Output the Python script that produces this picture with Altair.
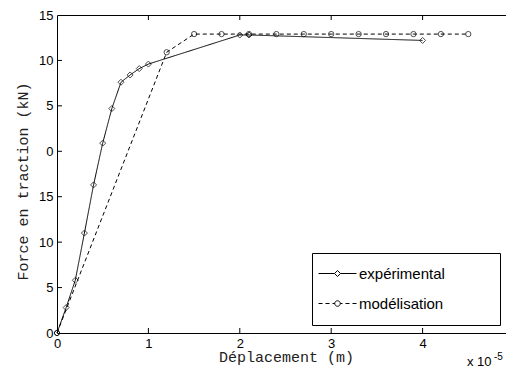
import json
import math
import altair as alt
import pandas as pd

# ---- data ----
series_names = ["expérimental", "modélisation"]

exp_x = [0, 0.1, 0.2, 0.3, 0.4, 0.5, 0.6, 0.7, 0.8, 0.9, 1.0, 2.0, 2.1, 4.0]
exp_y = [0, 2.8, 5.8, 11.0, 16.3, 20.9, 24.7, 27.6, 28.4, 29.1, 29.6, 32.8, 32.8, 32.2]

mod_x = [0, 1.2, 1.5, 1.8, 2.1, 2.4, 2.7, 3.0, 3.3, 3.6, 3.9, 4.2, 4.5]
mod_y = [0, 30.9, 32.9, 32.9, 32.9, 32.9, 32.9, 32.9, 32.9, 32.9, 32.9, 32.9, 32.9]

x_ticks = [0, 1, 2, 3, 4, 5]
x_inner_ticks = [1, 2, 3, 4]
y_ticks = [0, 5, 10, 15, 20, 25, 30, 35]
y_inner_ticks = [5, 10, 15, 20, 25, 30]
y_tick_labels = ["0", "5", "10", "15", "0", "5", "10", "15"]
exponent_text = ["x 10", "-5"]

df = pd.concat([
    pd.DataFrame({"x": exp_x, "y": exp_y, "series": series_names[0]}),
    pd.DataFrame({"x": mod_x, "y": mod_y, "series": series_names[1]}),
], ignore_index=True)

W, H = 457, 318

x_scale = alt.Scale(domain=[0, 5], nice=False, zero=False)
y_scale = alt.Scale(domain=[0, 35], nice=False, zero=False)

# legend glyphs: line + marker (dashes drawn into the path for the model)
path_exp = "M-3.8,0H-0.6M0,-0.6L0.6,0L0,0.6L-0.6,0ZM0.6,0H3.8"
ring = "".join(
    ("M" if i == 0 else "L")
    + f"{0.55 * math.cos(i * math.pi / 8):.3f},{0.55 * math.sin(i * math.pi / 8):.3f}"
    for i in range(16)
) + "Z"
path_mod = ("M-3.8,0H-3.0M-2.4,0H-1.6M-1.0,0H-0.55" + ring +
            "M0.55,0H1.0M1.6,0H2.4M3.0,0H3.8")
shape_scale = alt.Scale(domain=series_names, range=[path_exp, path_mod])

x_axis = alt.Axis(values=x_ticks, ticks=False, tickSize=0, domain=False, grid=False,
                  labelFont="Liberation Sans", labelFontSize=13, labelColor="black",
                  labelPadding=4, labelFlush=False,
                  title="Déplacement (m)", titleFont="Liberation Mono",
                  titleFontSize=15, titleFontWeight="normal", titleColor="#222",
                  titleX=229, titleY=28, titleBaseline="alphabetic",
                  titleAlign="center")
y_axis = alt.Axis(values=y_ticks, ticks=False, tickSize=0, domain=False, grid=False,
                  labelExpr=json.dumps(y_tick_labels) + "[round(datum.value/5)]",
                  labelFont="Liberation Sans", labelFontSize=13, labelColor="black",
                  labelPadding=4, labelFlush=False,
                  title="Force en traction (kN)", titleFont="Liberation Mono",
                  titleFontSize=15, titleFontWeight="normal", titleColor="#222",
                  titleX=-35, titleY=166, titleAngle=270, titleBaseline="middle",
                  titleAlign="center")

X = alt.X("x:Q", scale=x_scale, axis=x_axis)
Y = alt.Y("y:Q", scale=y_scale, axis=y_axis)

pad = "\u00a0" * 10 + "\u200b"
leg = alt.Legend(
    orient="none", legendX=255, legendY=238, title=None,
    strokeColor="black", fillColor="white", padding=13, cornerRadius=0,
    labelFont="Liberation Sans", labelFontSize=15, labelColor="black",
    labelExpr="datum.label + '" + pad + "'",
    symbolSize=100, symbolStrokeWidth=1, symbolStrokeColor="black",
    symbolFillColor="transparent", symbolOpacity=1,
    symbolOffset=5, labelOffset=14, rowPadding=14,
)

base = alt.Chart(df)
is_exp = alt.datum.series == series_names[0]

lines = base.mark_line(color="black", strokeWidth=1).encode(
    x=X, y=Y,
    strokeDash=alt.condition(is_exp, alt.value([1, 0]), alt.value([4, 3])),
    detail="series:N",
)

markers = base.mark_point(filled=False, color="black", strokeWidth=1).encode(
    x=X, y=Y,
    shape=alt.condition(is_exp, alt.value("diamond"), alt.value("circle")),
    size=alt.condition(is_exp, alt.value(36), alt.value(28)),
)

# legend only: the shape scale has an explicit domain, no marks are drawn
legend_layer = base.transform_filter("false").mark_point(
    filled=False, color="black").encode(
    x=X, y=Y,
    shape=alt.Shape("series:N", scale=shape_scale, legend=leg),
)

tick_df = pd.DataFrame({"x": x_inner_ticks})
ytick_df = pd.DataFrame({"y": y_inner_ticks})

xticks_bottom = alt.Chart(tick_df).mark_rule(color="black", strokeWidth=1).encode(
    x=X, y=alt.value(H - 5), y2=alt.value(H))
xticks_top = alt.Chart(tick_df).mark_rule(color="black", strokeWidth=1).encode(
    x=X, y=alt.value(0), y2=alt.value(5))
yticks_left = alt.Chart(ytick_df).mark_rule(color="black", strokeWidth=1).encode(
    y=Y, x=alt.value(0), x2=alt.value(5))

exp_df = pd.DataFrame({"t": [exponent_text[0]]})
exp_df2 = pd.DataFrame({"t": [exponent_text[1]]})
exp_main = alt.Chart(exp_df).mark_text(
    font="Liberation Sans", fontSize=13, color="black", align="left",
    baseline="alphabetic").encode(x=alt.value(410), y=alt.value(H + 33), text="t:N")
exp_sup = alt.Chart(exp_df2).mark_text(
    font="Liberation Sans", fontSize=10, color="black", align="left",
    baseline="alphabetic").encode(x=alt.value(437), y=alt.value(H + 27), text="t:N")

chart = alt.layer(
    lines, markers, legend_layer, xticks_bottom, xticks_top, yticks_left,
    exp_main, exp_sup,
).properties(
    width=W, height=H,
    autosize=alt.AutoSizeParams(type="none"),
    padding={"left": 49, "top": 7, "right": -8, "bottom": 37},
).configure(
    view=alt.ViewConfig(stroke="black", strokeWidth=1),
)

chart.save("out.html", embed_options={"renderer": "svg", "actions": False})
